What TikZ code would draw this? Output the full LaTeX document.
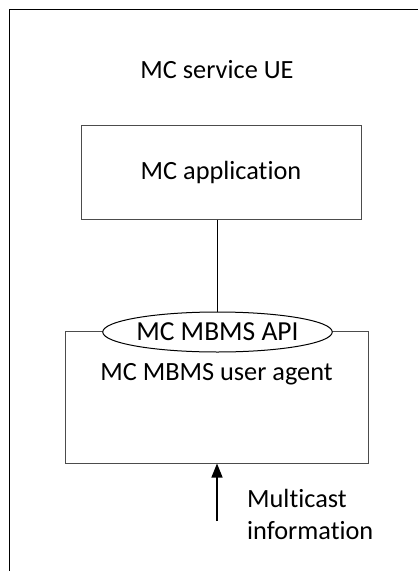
\documentclass[tikz,border=0pt]{standalone}
\usepackage{fontspec}
\setmainfont[Ligatures={NoCommon}]{Carlito}
\usetikzlibrary{shapes.geometric,arrows.meta}

\tikzset{
  box/.style={draw=black!70, line width=1pt},
  lbl/.style={font=\fontsize{26.3}{32}\selectfont, inner sep=0pt},
}

\begin{document}
\begin{tikzpicture}[x=1pt, y=-1pt]
    \useasboundingbox (0,0) rectangle (418,571);
    \draw[line width=1.3pt] (418,9.5) -- (9.5,9.5) -- (9.5,571);
    \node[lbl] (ue) at (217,70) {MC service UE};
    \node[box, lbl, minimum width=280pt, minimum height=94pt] (app) at (221,172) {MC application};
    \node[box, minimum width=303pt, minimum height=132pt] (agent) at (216.5,397) {};
    \node[lbl] (agentlbl) at (216.5,374) {MC MBMS user agent};
    \node[draw, ellipse, fill=white, line width=1pt, minimum width=209pt, minimum height=40pt,
      inner sep=0pt, font=\fontsize{27.5}{32}\selectfont] (api) at (217.5,332) {MC MBMS API};
    \draw[line width=1.3pt] (api.north |- app.south) -- (api.north);
    \coordinate (mcin) at (217,521);
    \draw[line width=1.4pt, -{Triangle[length=14pt,width=11pt]}] (mcin) -- (mcin |- agent.south);
    \node[lbl, anchor=west, align=left] (mctext) at (247,514) {Multicast\\information};
  \end{tikzpicture}
\end{document}
